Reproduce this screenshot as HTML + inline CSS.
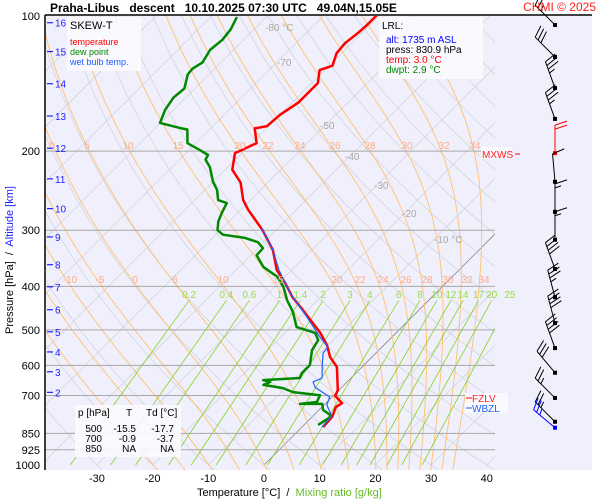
<!DOCTYPE html>
<html><head><meta charset="utf-8">
<style>
html,body{margin:0;padding:0;background:#fff;}
svg{display:block;font-family:"Liberation Sans",sans-serif;}
.pre{white-space:pre;}
</style></head>
<body>
<svg id="chart" width="600" height="500" viewBox="0 0 600 500" xmlns="http://www.w3.org/2000/svg">
<defs><clipPath id="plotclip"><rect x="45" y="16" width="450" height="454"/></clipPath></defs>
<rect x="0" y="0" width="600" height="500" fill="#ffffff"/>
<rect x="45" y="16" width="547" height="454" fill="#f0f0fc"/>
<g id="grid" clip-path="url(#plotclip)"></g>
<g id="plines"></g>
<g id="series" clip-path="url(#plotclip)"></g>
<line x1="45" y1="15" x2="592" y2="15" stroke="#000" stroke-width="1.5"/>
<line x1="45" y1="15" x2="45" y2="470" stroke="#000" stroke-width="1.5"/>
<g id="axes"></g>
<g id="barbs"></g>

<text class="pre" x="50" y="12" font-size="12" font-weight="bold">Praha-Libus   descent   10.10.2025 07:30 UTC   49.04N,15.05E</text>
<text x="596" y="11" font-size="12" fill="#ff2020" text-anchor="end">CHMI © 2025</text>

<g>
<rect x="67" y="17" width="74" height="54" fill="#fafafe" opacity="0.9"/>
<text x="70" y="29" font-size="11">SKEW-T</text>
<text x="70" y="45" font-size="9" fill="#ff0000">temperature</text>
<text x="70" y="55" font-size="9" fill="#008800">dew point</text>
<text x="70" y="65" font-size="9" fill="#2060ff">wet bulb temp.</text>
</g>

<g>
<rect x="379" y="17" width="104" height="62" fill="#fafafe"/>
<text x="382" y="29" font-size="10">LRL:</text>
<text x="386" y="43" font-size="10" fill="#0000ff">alt: 1735 m ASL</text>
<text x="386" y="53" font-size="10">press: 830.9 hPa</text>
<text x="386" y="63" font-size="10" fill="#ff0000">temp: 3.0 °C</text>
<text x="386" y="73" font-size="10" fill="#008800">dwpt: 2.9 °C</text>
</g>

<g>
<rect x="481" y="147" width="31" height="12" fill="#fafafe"/>
<text x="482" y="158" font-size="10" fill="#ff2020">MXWS</text>
<line x1="515" y1="154" x2="520" y2="154" stroke="#ff0000"/>
</g>
<g>
<rect x="465" y="393" width="43" height="20" fill="#fafafe"/>
<line x1="466" y1="398" x2="472" y2="398" stroke="#ff0000"/>
<text x="472" y="402" font-size="10" fill="#ff2020">FZLV</text>
<line x1="466" y1="408" x2="472" y2="408" stroke="#2060ff"/>
<text x="472" y="412" font-size="10" fill="#2060ff">WBZL</text>
</g>

<g>
<rect x="75" y="405" width="106" height="52" fill="#fafafe" opacity="0.9"/>
<text x="78" y="416" font-size="10">p [hPa]</text>
<text x="126" y="416" font-size="10">T</text>
<text x="146" y="416" font-size="10">Td [°C]</text>
<text x="102" y="432" font-size="10" text-anchor="end">500</text>
<text x="136" y="432" font-size="10" text-anchor="end">-15.5</text>
<text x="174" y="432" font-size="10" text-anchor="end">-17.7</text>
<text x="102" y="442" font-size="10" text-anchor="end">700</text>
<text x="136" y="442" font-size="10" text-anchor="end">-0.9</text>
<text x="174" y="442" font-size="10" text-anchor="end">-3.7</text>
<text x="102" y="452" font-size="10" text-anchor="end">850</text>
<text x="136" y="452" font-size="10" text-anchor="end">NA</text>
<text x="174" y="452" font-size="10" text-anchor="end">NA</text>
</g>

<text class="pre" x="197" y="496" font-size="11">Temperature [°C]  /  <tspan fill="#66bb22">Mixing ratio [g/kg]</tspan></text>
<text class="pre" transform="translate(13,334) rotate(-90)" font-size="11">Pressure [hPa]  /  <tspan fill="#2020ff">Altitude [km]</tspan></text>
</svg>
<script>
// ---- data ----
var tempP = [823,781,743,728,702,681,605,575,541,508,480,452,423,393,368,332,300,270,257,235,220,202,192,178,176,166,156,141,132,129,121,115,109,105,99];
var tempT = [3.8,3.6,2.5,2.9,0.4,-0.2,-4.5,-7.5,-10.2,-13.6,-17.1,-20.8,-25,-28.9,-32.7,-37,-42.4,-48.7,-51.3,-54.9,-58.7,-61.2,-59.1,-62.1,-60.3,-60,-58.9,-58.9,-60.9,-59.4,-60.9,-61.2,-60.7,-60.5,-60.5];
var dewP = [814,778,754,731,731,724,699,688,674,663,653,647,640,624,599,555,527,508,493,456,429,401,381,362,341,329,319,312,307,300,287,275,261,257,244,234,217,209,204,199,192,179,178,173,162,152,145,135,131,127,119,113,107,100.5];
var dewT = [2.5,3.4,0.7,-0.5,-4.5,-1.8,-2.5,-7.9,-10.4,-14.5,-13.8,-15.4,-9.2,-9.7,-9.7,-12,-12.7,-14.5,-18.9,-22.3,-25.5,-28.5,-31.4,-35.7,-39,-39.1,-41.1,-44.2,-48.7,-50.5,-51.9,-52.8,-53.7,-55.8,-57.8,-60,-63.2,-65.3,-65.7,-68,-71.5,-74,-75.2,-80.1,-81.5,-82.2,-81.9,-83.8,-84,-83.3,-84.2,-83.8,-84.2,-85.3];
var wbP = [823,778,735,706,671,653,640,599,563,546,519,468,414,368,332,297];
var wbT = [3.6,3.4,0.5,-0.4,-4.8,-6.1,-5.2,-7.5,-9.5,-9.7,-12.9,-18.9,-26.2,-32.3,-37,-42.9];
var pressureTicks = [100,200,300,400,500,600,700,850,925,1000];
var tempTicks = [-30,-20,-10,0,10,20,30,40];
var altKm = [16,15,14,13,12,11,10,9,8,7,6,5,4,3,2];
var altP = [103.5,120,141.5,167,197,230.5,268.5,310.5,358,401,451,505,560,620,689];
var mixRatios = [0.2,0.4,0.6,1,1.4,2,3,4,6,8,10,12,14,17,20,25];
var mixLabels = ["0.2","0.4","0.6","1","1.4","2","3","4","6","8","10","12","14","17","20","25"];
var thetaW = [-20,-15,-10,-5,0,5,10,15,20,22,24,26,28,30,32,34];
var windP = [104.7,123.4,144.7,169.5,202,234,273,315,366,423,483,549,623,709,801,826];
var windDir = [315,315,340,340,0,355,0,0,340,345,345,340,320,315,315,310];
var windSpd = [25,30,35,35,20,10,15,15,40,35,40,40,30,25,25,25];

var NS='http://www.w3.org/2000/svg';
function Y(p){return 16+195*Math.log(p/100);}
function X(t,p){return 264+5.57*t+(465-Y(p));}
function mk(tag,attrs,parent){var e=document.createElementNS(NS,tag);for(var k in attrs)e.setAttribute(k,attrs[k]);parent.appendChild(e);return e;}
var grid=document.getElementById('grid'), series=document.getElementById('series'), axes=document.getElementById('axes'), pl=document.getElementById('plines'), barbs=document.getElementById('barbs');

// isotherms
for(var t=-130;t<=40;t+=10){
  var l=mk('line',{x1:X(t,1000),y1:Y(1000),x2:X(t,100),y2:Y(100),stroke:t===0?'#888':'#d4d4dc','stroke-width':0.8},grid);
  
  
}
// dry adiabats
for(var th=-40;th<=200;th+=10){
  var d='';
  for(var p=1050;p>=95;p-=25){var T=(th+273.15)*Math.pow(p/1000,0.2857)-273.15;d+=(d?'L':'M')+X(T,p).toFixed(1)+','+Y(p).toFixed(1);}
  var e=mk('path',{d:d,fill:'none',stroke:'#d4d4dc','stroke-width':0.8},grid);
  
  
}
// moist adiabats
function es(T){return 6.112*Math.exp(17.67*T/(T+243.5));}
function mstep(Tk,pp,dp){var e=es(Tk-273.15),rs=0.622*e/(pp-e);var num=287*Tk+2.5e6*rs;var den=1004+2.5e6*2.5e6*rs*0.622/(287*Tk*Tk);return Tk+num/den*(dp/pp);}
thetaW.forEach(function(tw){
  var Tk=mstep(tw+273.15,1000,50), pp=1050, d='';
  while(pp>=100){d+=(d?'L':'M')+X(Tk-273.15,pp).toFixed(1)+','+Y(pp).toFixed(1);Tk=mstep(Tk,pp,-5);pp-=5;}
  var e=mk('path',{d:d,fill:'none',stroke:'#ffc070','stroke-width':0.9},grid);
  
  
});
// mixing ratio lines
mixRatios.forEach(function(w,i){
  function td(p){var e=w*p/(622+w);var l=Math.log(e/6.112);return 243.5*l/(17.67-l);}
  var ptop=430;
  var e=mk('line',{x1:X(td(1000),1000),y1:Y(1000),x2:X(td(ptop),ptop),y2:Y(ptop),stroke:'#88d020','stroke-width':0.8},grid);
  
  
  var tx=mk('text',{x:X(td(ptop),ptop),y:298,'font-size':10,fill:'#99dd44','text-anchor':'middle'},axes);
  tx.textContent=mixLabels[i];
  
  
});
// static adiabat & isotherm labels
var oLab=[[52,'0'],[87,'5'],[128,'10'],[178,'15'],[240,'20'],[268,'22'],[300,'24'],[335,'26'],[370,'28'],[407,'30'],[444,'32'],[475,'34']];
oLab.forEach(function(a){var t=mk('text',{x:a[0],y:149,'font-size':10,fill:'#ffaa88','text-anchor':'middle'},axes);t.textContent=a[1];});
var oLab2=[[70,'-10'],[100,'-5'],[135,'0'],[175,'5'],[223,'10'],[278,'15'],[337,'20'],[360,'22'],[383,'24'],[406,'26'],[427,'28'],[448,'30'],[467,'32'],[484,'34']];
oLab2.forEach(function(a){var t=mk('text',{x:a[0],y:283,'font-size':10,fill:'#ffaa88','text-anchor':'middle'},axes);t.textContent=a[1];});
var iLab=[[265,31,'-80 °C'],[277,66,'-70'],[320,129,'-50'],[345,160,'-40'],[374,189,'-30'],[402,217,'-20'],[434,243,'-10 °C']];
iLab.forEach(function(a){var t=mk('text',{x:a[0],y:a[1],'font-size':10,fill:'#a8a8a8'},axes);t.textContent=a[2];});

// pressure lines & labels
pressureTicks.forEach(function(p){
  if(p>100 && p<1000){var l=mk('line',{x1:45,y1:Y(p),x2:495,y2:Y(p),stroke:'#a8a8a8','stroke-width':1},pl);
  
  }
  var t=mk('text',{x:40,y:Y(p)+4,'font-size':11,'text-anchor':'end'},axes);
  t.textContent=p;
  
  
});
tempTicks.forEach(function(v){
  var t=mk('text',{x:X(v,1000),y:482,'font-size':11,'text-anchor':'middle'},axes);
  t.textContent=v;
  
  
});
altKm.forEach(function(k,i){
  var y=Y(altP[i]);
  var l=mk('line',{x1:47,y1:y,x2:53,y2:y,stroke:'#2020ff','stroke-width':1.2},axes);
  
  
  var t=mk('text',{x:55,y:y+4,'font-size':10,fill:'#2020ff'},axes);
  t.textContent=k;
  
  
});

// profiles
function line(P,T,col,w,name){
  var d='';for(var i=0;i<P.length;i++)d+=(i?'L':'M')+X(T[i],P[i]).toFixed(1)+','+Y(P[i]).toFixed(1);
  var e=mk('path',{d:d,fill:'none',stroke:col,'stroke-width':w,'stroke-linejoin':'round'},series);
  
  
}
line(dewP,dewT,'#008800',2.5,'dew-point-line');
line(tempP,tempT,'#ff0000',2.5,'temperature-line');
line(wbP,wbT,'#2060ff',1.2,'wet-bulb-line');

// wind barbs
windP.forEach(function(p,i){
  var x=555,y=Y(p),col=(i===4)?'#ff0000':(i===windP.length-1?'#0000ff':'#000');
  var a=windDir[i]*Math.PI/180,L=28;
  var ux=Math.sin(a),uy=-Math.cos(a);
  var ex=x+ux*L,ey=y+uy*L;
  var g=mk('g',{},barbs);
  
  
  mk('line',{x1:x,y1:y,x2:ex,y2:ey,stroke:col,'stroke-width':1},g);
  mk('rect',{x:x-2,y:y-2,width:4,height:4,fill:col},g);
  var s=windSpd[i],k=0;
  var px=-uy,py=ux;
  while(s>=10){var bx=ex-ux*k*4,by=ey-uy*k*4;mk('line',{x1:bx,y1:by,x2:bx+px*12+ux*4,y2:by+py*12+uy*4,stroke:col,'stroke-width':1},g);s-=10;k++;}
  if(s>=5){var bx2=ex-ux*k*4,by2=ey-uy*k*4;mk('line',{x1:bx2,y1:by2,x2:bx2+px*6+ux*2,y2:by2+py*6+uy*2,stroke:col,'stroke-width':1},g);}
});
</script>
</body></html>
